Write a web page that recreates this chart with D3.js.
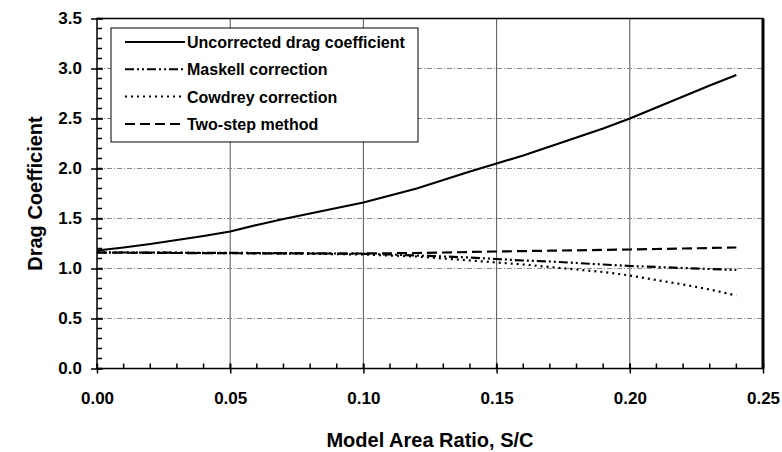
<!DOCTYPE html>
<html>
<head>
<meta charset="utf-8">
<script src="https://cdn.jsdelivr.net/npm/d3@7"></script>
<style>
    body { margin: 0; background: white; }
    svg { display: block; }
    text { font-family: 'Liberation Sans', Arial, sans-serif; font-weight: bold; fill: black; }
</style>
</head>
<body>
<div id="chart-container"></div>
<script>
// model area ratio S/C
const areaRatio = [0.00, 0.01, 0.02, 0.03, 0.04, 0.05, 0.06, 0.07, 0.08, 0.09,
                   0.10, 0.11, 0.12, 0.13, 0.14, 0.15, 0.16, 0.17, 0.18, 0.19,
                   0.20, 0.21, 0.22, 0.23, 0.24];

const uncorrected = [1.18, 1.21, 1.245, 1.285, 1.325, 1.37, 1.435, 1.495, 1.55, 1.605,
                     1.66, 1.73, 1.80, 1.885, 1.97, 2.05, 2.13, 2.22, 2.31, 2.40,
                     2.50, 2.61, 2.72, 2.83, 2.935];

const maskell = [1.16, 1.16, 1.16, 1.158, 1.157, 1.156, 1.155, 1.154, 1.152, 1.15,
                 1.147, 1.14, 1.13, 1.12, 1.11, 1.095, 1.08, 1.07, 1.055, 1.04,
                 1.025, 1.015, 1.005, 0.995, 0.985];

const cowdrey = [1.16, 1.16, 1.159, 1.157, 1.155, 1.153, 1.151, 1.149, 1.147, 1.144,
                 1.14, 1.13, 1.12, 1.10, 1.08, 1.06, 1.04, 1.015, 0.99, 0.965,
                 0.93, 0.885, 0.84, 0.79, 0.73];

const twoStep = [1.16, 1.158, 1.156, 1.155, 1.154, 1.153, 1.152, 1.151, 1.15, 1.15,
                 1.15, 1.152, 1.155, 1.16, 1.165, 1.17, 1.174, 1.178, 1.182, 1.186,
                 1.19, 1.195, 1.20, 1.205, 1.21];

const seriesNames = ['Uncorrected drag coefficient', 'Maskell correction', 'Cowdrey correction', 'Two-step method'];
const seriesValues = [uncorrected, maskell, cowdrey, twoStep];
const seriesDash = ['none', '9,3,2,3,2,3', '2,4', '10,5'];

const xTicks = [0, 0.05, 0.10, 0.15, 0.20, 0.25];
const yTicks = [0, 0.5, 1.0, 1.5, 2.0, 2.5, 3.0, 3.5];

class DragChart
{
    constructor(containerId)
    {
        this.width = 782;
        this.height = 452;
        this.left = 97;
        this.right = 763;
        this.top = 18.5;
        this.bottom = 368.5;

        this.scaleX = d3.scaleLinear().domain([0, 0.25]).range([this.left, this.right]);
        this.scaleY = d3.scaleLinear().domain([0, 3.5]).range([this.bottom, this.top]);

        this.svg = d3.select('#' + containerId)
            .append('svg')
            .attr('width', this.width)
            .attr('height', this.height);

        this.drawGrid();
        this.drawLines();
        this.drawLegend();
        this.drawAxes();
    }

    drawGrid()
    {
        this.svg.selectAll('.v-grid')
            .data(xTicks.slice(1, -1))
            .join('line')
            .attr('x1', d => this.scaleX(d))
            .attr('x2', d => this.scaleX(d))
            .attr('y1', this.top)
            .attr('y2', this.bottom)
            .attr('stroke', '#555')
            .attr('stroke-width', 1)
            .classed('v-grid', true);

        this.svg.selectAll('.h-grid')
            .data(yTicks.slice(1, -1))
            .join('line')
            .attr('x1', this.left)
            .attr('x2', this.right)
            .attr('y1', d => this.scaleY(d))
            .attr('y2', d => this.scaleY(d))
            .attr('stroke', '#888')
            .attr('stroke-width', 1)
            .attr('stroke-dasharray', '5,2,1,2')
            .classed('h-grid', true);
    }

    drawLines()
    {
        const line = d3.line()
            .x((d, i) => this.scaleX(areaRatio[i]))
            .y(d => this.scaleY(d));

        this.svg.selectAll('.series')
            .data(seriesValues)
            .join('path')
            .attr('d', d => line(d))
            .attr('fill', 'none')
            .attr('stroke', 'black')
            .attr('stroke-width', 2.2)
            .attr('stroke-dasharray', (d, i) => seriesDash[i])
            .classed('series', true);
    }

    drawLegend()
    {
        const box = this.svg.append('g').attr('transform', 'translate(111, 28)');
        box.append('rect')
            .attr('width', 307)
            .attr('height', 114)
            .attr('fill', 'white')
            .attr('stroke', 'black')
            .attr('stroke-width', 1);

        const rows = box.selectAll('.legend-row')
            .data(seriesNames)
            .join('g')
            .attr('transform', (d, i) => `translate(0, ${14 + i * 27.3})`)
            .classed('legend-row', true);

        rows.append('line')
            .attr('x1', 14)
            .attr('x2', 74)
            .attr('stroke', 'black')
            .attr('stroke-width', 2)
            .attr('stroke-dasharray', (d, i) => seriesDash[i]);

        rows.append('text')
            .attr('x', 76)
            .attr('y', 6)
            .style('font-size', '16px')
            .text(d => d);
    }

    drawAxes()
    {
        // frame
        this.svg.append('rect')
            .attr('x', this.left)
            .attr('y', this.top)
            .attr('width', this.right - this.left)
            .attr('height', this.bottom - this.top)
            .attr('fill', 'none')
            .attr('stroke', 'black')
            .attr('stroke-width', 1.5);
        this.svg.append('line')
            .attr('x1', this.right)
            .attr('x2', this.right)
            .attr('y1', this.top)
            .attr('y2', this.bottom)
            .attr('stroke', 'black')
            .attr('stroke-width', 3);

        // minor ticks
        const minorX = d3.range(0, 26).map(i => i / 100);
        this.svg.selectAll('.minor-x')
            .data(minorX)
            .join('line')
            .attr('x1', d => this.scaleX(d))
            .attr('x2', d => this.scaleX(d))
            .attr('y1', this.bottom)
            .attr('y2', this.bottom - 5)
            .attr('stroke', 'black')
            .attr('stroke-width', 1.5)
            .classed('minor-x', true);

        const minorY = d3.range(0, 36).map(i => i / 10);
        this.svg.selectAll('.minor-y')
            .data(minorY)
            .join('line')
            .attr('x1', this.left)
            .attr('x2', this.left + 5)
            .attr('y1', d => this.scaleY(d))
            .attr('y2', d => this.scaleY(d))
            .attr('stroke', 'black')
            .attr('stroke-width', 1.5)
            .classed('minor-y', true);

        // major ticks and labels
        const xAxis = d3.axisBottom(this.scaleX)
            .tickValues(xTicks)
            .tickSize(10)
            .tickFormat(d3.format('.2f'));
        const gx = this.svg.append('g')
            .attr('transform', `translate(0, ${this.bottom - 5})`)
            .call(xAxis);
        gx.select('.domain').remove();
        gx.selectAll('.tick line').attr('stroke', 'black').attr('stroke-width', 1.5);
        gx.selectAll('.tick text')
            .attr('y', 0)
            .attr('dy', 0)
            .attr('transform', 'translate(0, 40)')
            .style('font-size', '17px')
            .style('font-family', null);

        const yAxis = d3.axisLeft(this.scaleY)
            .tickValues(yTicks)
            .tickSize(12)
            .tickFormat(d3.format('.1f'));
        const gy = this.svg.append('g')
            .attr('transform', `translate(${this.left + 6}, 0)`)
            .call(yAxis);
        gy.select('.domain').remove();
        gy.selectAll('.tick line').attr('stroke', 'black').attr('stroke-width', 1.5);
        gy.selectAll('.tick text')
            .attr('x', -21)
            .style('font-size', '17px')
            .style('font-family', null);

        // titles
        this.svg.append('text')
            .attr('x', (this.left + this.right) / 2)
            .attr('y', 447)
            .attr('text-anchor', 'middle')
            .style('font-size', '20px')
            .text('Model Area Ratio, S/C');

        this.svg.append('text')
            .attr('transform', `translate(42, ${(this.top + this.bottom) / 2}) rotate(-90)`)
            .attr('text-anchor', 'middle')
            .style('font-size', '20px')
            .text('Drag Coefficient');
    }
}

new DragChart('chart-container');
</script>
</body>
</html>
